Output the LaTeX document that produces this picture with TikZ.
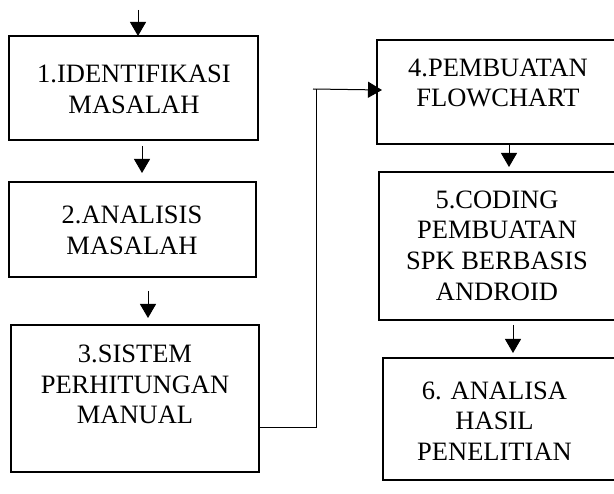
\documentclass[tikz,border=0pt]{standalone}
\usepackage{fontspec}
\setmainfont{Liberation Serif}
\usetikzlibrary{arrows.meta}
\begin{document}
\begin{tikzpicture}[x=1pt,y=-1pt,
  boxst/.style={draw,line width=2pt,anchor=north west,inner sep=0pt,outer sep=0pt},
  txt/.style={align=center,inner sep=0pt,font=\fontsize{26.5}{30.6}\selectfont},
  conn/.style={line width=1pt},
  arr/.style={line width=1pt,-{Triangle[length=14pt,width=16pt]}}]
\useasboundingbox (0,0) rectangle (614,494);
\clip (0,0) rectangle (614,494);
\node[boxst,minimum width=249pt,minimum height=104pt] (b1) at (9,36) {};
\node[boxst,minimum width=247pt,minimum height=95pt] (b2) at (9,182) {};
\node[boxst,minimum width=248pt,minimum height=147pt] (b3) at (11,325) {};
\node[boxst,minimum width=250pt,minimum height=104pt] (b4) at (377,40) {};
\node[boxst,minimum width=250pt,minimum height=148pt] (b5) at (379,172) {};
\node[boxst,minimum width=250pt,minimum height=122pt] (b6) at (383,358) {};
\node[txt] (t1) at (134,89.5) {1.IDENTIFIKASI\\MASALAH};
\node[txt] (t2) at (132,230.5) {2.ANALISIS\\MASALAH};
\node[txt] (t3) at (135,384.5) {3.SISTEM\\PERHITUNGAN\\MANUAL};
\node[txt] (t4) at (498,83) {4.PEMBUATAN\\FLOWCHART};
\node[txt] (t5) at (497,245.5) {5.CODING\\PEMBUATAN\\SPK BERBASIS\\ANDROID};
\node[txt] (t6) at (494.5,421) {6. ANALISA\\HASIL\\PENELITIAN};
\coordinate (s0) at (138,10);
\draw[arr] (s0) -- (s0 |- b1.north);
\coordinate (s1) at (142,146);
\draw[arr] (s1) -- ([yshift=9pt]s1 |- b2.north);
\coordinate (s2) at (148,291);
\draw[arr] (s2) -- ([yshift=7pt]s2 |- b3.north);
\coordinate (s4) at (509,144);
\draw[arr] (s4) -- ([yshift=5pt]s4 |- b5.north);
\coordinate (s5) at (513,325);
\draw[arr] (s5) -- ([yshift=5pt]s5 |- b6.north);
\coordinate (c1) at (316,428);
\coordinate (c2) at (316,89);
\draw[conn] (b3.east |- c1) -- (c1) -- (c2);
\draw[arr] ([xshift=-3pt]c2) -- ([xshift=5pt]b4.west |- 0,90);
\end{tikzpicture}
\end{document}
